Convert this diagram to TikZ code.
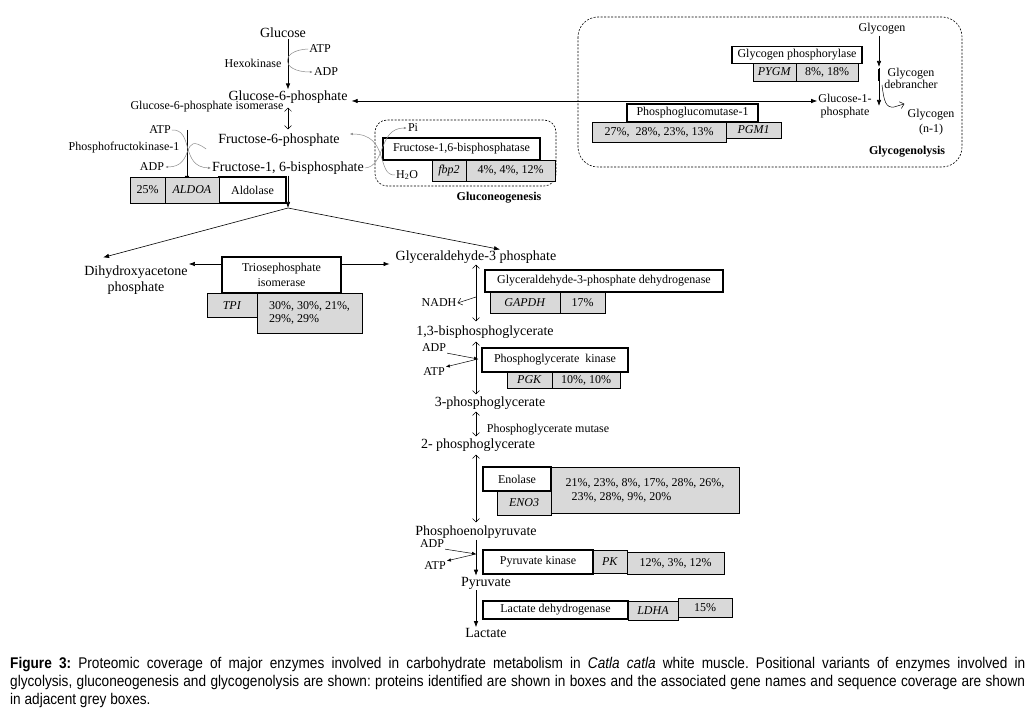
\documentclass[tikz,border=0pt]{standalone}
\usepackage{fontspec}
\setmainfont{Liberation Serif}
\newfontfamily\capfont[FakeStretch=0.88]{Liberation Sans}
\usetikzlibrary{arrows.meta}

\newcommand{\metsize}{\fontsize{14}{16}\selectfont}
\newcommand{\lblsize}{\fontsize{12}{13}\selectfont}

\tikzset{
  met/.style={font=\metsize, inner sep=1pt, align=center},
  lbl/.style={font=\lblsize, inner sep=1pt, align=center},
  enz/.style={draw, line width=1.6pt, fill=white, font=\lblsize, inner sep=0pt},
  gene/.style={draw, line width=0.5pt, fill=black!15, font=\lblsize, inner sep=0pt},
  fwd/.style={-{Latex[length=6pt,width=4.5pt]}, line width=0.6pt},
  small fwd/.style={-{Latex[length=4pt,width=3.5pt]}, line width=0.5pt},
  rev/.style={{Straight Barb[length=3.5pt,width=7pt]}-{Straight Barb[length=3.5pt,width=7pt]}, line width=0.5pt},
  open tip/.style={-{Straight Barb[length=4pt,width=7pt]}, line width=0.5pt},
  cof/.style={black!45, line width=0.5pt, -{Latex[length=3pt,width=2.5pt]}},
  region/.style={dash pattern=on 2pt off 1.5pt, line width=0.6pt},
}

\begin{document}
\begin{tikzpicture}[x=1pt,y=-1pt]
  \useasboundingbox[fill=white] (0,0) rectangle (1034,714);

  % Regions
  \draw [region, rounded corners=12pt] (375,120) rectangle (556,186);
  \draw [region, rounded corners=20pt] (578,17) rectangle (962,167);
  \node [lbl, font=\lblsize\bfseries] (gng) at (499,198) {Gluconeogenesis};
  \node [lbl, font=\lblsize\bfseries] (ggl) at (907,152) {Glycogenolysis};

  % Glucose to fructose-1,6-bisphosphate
  \node [met] (Glc) at (283,33) {Glucose};
  \node [met] (G6P) at (288,97) {Glucose-6-phosphate};
  \node [met] (F6P) at (279,140) {Fructose-6-phosphate};
  \node [met] (F16BP) at (288,168) {Fructose-1, 6-bisphosphate};
  \node [lbl] (hk) at (253,63) {Hexokinase};
  \node [lbl] (atp1) at (320,49) {ATP};
  \node [lbl] (adp1) at (326,72) {ADP};
  \node [lbl] (gpi) at (207,107) {Glucose-6-phosphate isomerase};
  \node [lbl] (atp2) at (160,130) {ATP};
  \node [lbl] (pfk) at (124,148) {Phosphofructokinase-1};
  \node [lbl] (adp2) at (152,167) {ADP};
  \draw [fwd] (G6P.north |- Glc.south) -- (G6P.north);
  \draw [cof] (atp1.west) .. controls (280,50) and (280,72) .. (adp1.west);
  \draw [rev, shorten <=3pt, shorten >=3pt] (G6P.south) -- (G6P.south |- F6P.north);
  \coordinate (pfk top) at (187,130);
  \coordinate (pfk bot) at (187,182);
  \draw [fwd, line width=0.8pt] (pfk top) -- (pfk bot);
  \draw [cof] (atp2.east) .. controls (194,129) and (180,167) .. (F16BP.west);
  \draw [cof] ([xshift=-11pt,yshift=-9pt]F6P.west) .. controls (180,130) and (196,167) .. (adp2.east);

  % Aldolase
  \node [enz, minimum width=67, minimum height=26] (ald) at (252.5,190) {Aldolase};
  \node [gene, minimum width=35, minimum height=26] (aldcov) at (147.5,190) {25\%};
  \node [gene, minimum width=54, minimum height=26] (aldg) at (192,190) {\textit{ALDOA}};

  % Gluconeogenesis
  \node [enz, minimum width=157, minimum height=22] (fbp) at (461.5,149) {Fructose-1,6-bisphosphatase};
  \node [gene, minimum width=34, minimum height=21] (fbpg) at (449,170.5) {\textit{fbp2}};
  \node [gene, minimum width=89, minimum height=21] (fbpcov) at (510.5,170.5) {4\%, 4\%, 12\%};
  \node [lbl] (pi) at (413,128) {Pi};
  \node [lbl] (h2o) at (407,175) {H\textsubscript{2}O};
  \draw [cof] (F16BP.east) .. controls (386,166) and (378,128) .. (pi.west);
  \draw [cof] (h2o.west) .. controls (376,176) and (390,134) .. ([xshift=9pt,yshift=6pt]F6P.east);

  % Glycogenolysis
  \node [lbl] (gly) at (882,29) {Glycogen};
  \node [lbl, font=\fontsize{12}{12}\selectfont] (gdb) at (911,78) {Glycogen\\debrancher};
  \node [lbl] (G1P) at (845,106) {Glucose-1-\\phosphate};
  \node [lbl, font=\fontsize{12}{15}\selectfont] (glyn) at (931,122) {Glycogen\\(n-1)};
  \node [enz, minimum width=130, minimum height=17] (gp) at (797,55) {Glycogen phosphorylase};
  \node [gene, minimum width=43, minimum height=18] (gpg) at (774.5,72) {\textit{PYGM}};
  \node [gene, minimum width=62, minimum height=18] (gpcov) at (827,72) {8\%, 18\%};
  \node [enz, minimum width=131, minimum height=18] (pgm) at (692.5,113) {Phosphoglucomutase-1};
  \node [gene, minimum width=134, minimum height=20] (pgmcov) at (659,132) {27\%,\ \ 28\%, 23\%, 13\%};
  \node [gene, minimum width=55, minimum height=16] (pgmg) at (753.5,130) {\textit{PGM1}};
  \coordinate (gp pt) at (879,67);
  \draw [fwd] (gly.south -| gp pt) -- (gp pt);
  \draw [fwd] ([yshift=-1pt]gp pt) -- (gp pt |- G1P.center);
  \draw [line width=1.2pt] ([yshift=-2pt]gp pt) -- ([yshift=-14pt]gp pt);
  \draw [open tip] ([xshift=3pt,yshift=-18pt]gp pt) .. controls (884,102) and (886,108) .. (894,107) -- ([xshift=-2pt,yshift=4pt]glyn.north west);
  \draw [fwd, {Latex[length=6pt,width=4.5pt]}-{Latex[length=6pt,width=4.5pt]}] ([xshift=3pt,yshift=-4pt]G6P.east) -- ([yshift=-4pt]G6P.east -| G1P.west);

  % Cleavage
  \coordinate (split) at (288,208);
  \node [met] (DHAP) at (136,280) {Dihydroxyacetone\\phosphate};
  \node [met] (GAP) at (476,257) {Glyceraldehyde-3 phosphate};
  \draw [fwd] (F16BP.south) -- (split);
  \draw [fwd] (split) -- ([xshift=20pt,yshift=7pt]DHAP.north west);
  \draw [fwd] (split) -- ([xshift=24pt]GAP.north);
  \node [enz, minimum width=119, minimum height=36, align=center, font=\fontsize{12}{15}\selectfont] (tim) at (281.5,275) {Triosephosphate\\isomerase};
  \node [gene, minimum width=50, minimum height=24, anchor=north] (timg) at (232,293) {\textit{TPI}};
  \node [gene, minimum width=105, minimum height=40, anchor=north, align=left, font=\fontsize{12}{13}\selectfont] (timcov) at (309.5,293) {30\%, 30\%, 21\%,\\29\%, 29\%};
  \draw [fwd] ([yshift=11pt]tim.west) -- ([yshift=11pt]tim.west -| DHAP.east);
  \draw [fwd, shorten >=5pt] ([yshift=11pt]tim.east) -- ([yshift=11pt]tim.east -| GAP.west);

  % Glycolysis, lower half
  \node [met] (BPG) at (485,332) {1,3-bisphosphoglycerate};
  \node [met] (PG3) at (490,403) {3-phosphoglycerate};
  \node [met] (PG2) at (478,445) {2- phosphoglycerate};
  \node [met] (PEP) at (476,532) {Phosphoenolpyruvate};
  \node [met] (Pyr) at (486,583) {Pyruvate};
  \node [met] (Lac) at (486,633) {Lactate};
  \node [lbl] (nadh) at (439,303) {NADH};
  \node [lbl] (adp3) at (434,348) {ADP};
  \node [lbl] (atp3) at (434,372) {ATP};
  \node [lbl] (pgam) at (548,430) {Phosphoglycerate mutase};
  \node [lbl] (adp4) at (432,544) {ADP};
  \node [lbl] (atp4) at (435,566) {ATP};

  \node [enz, minimum width=238, minimum height=22] (gapdh) at (604,281) {Glyceraldehyde-3-phosphate dehydrogenase};
  \node [gene, minimum width=70, minimum height=21] (gapdhg) at (525,302.5) {\textit{GAPDH}};
  \node [gene, minimum width=45, minimum height=21] (gapdhcov) at (582.5,302.5) {17\%};
  \node [enz, minimum width=146, minimum height=24] (pgk) at (555,360) {Phosphoglycerate\ \ kinase};
  \node [gene, minimum width=45, minimum height=16] (pgkg) at (529.5,380) {\textit{PGK}};
  \node [gene, minimum width=68, minimum height=16] (pgkcov) at (586,380) {10\%, 10\%};
  \node [enz, minimum width=68, minimum height=24] (eno) at (517,479) {Enolase};
  \node [gene, minimum width=54, minimum height=24] (enog) at (524,503) {\textit{ENO3}};
  \node [gene, minimum width=188, minimum height=46, align=left, font=\fontsize{12}{14}\selectfont] (enocov) at (645,490) {21\%, 23\%, 8\%, 17\%, 28\%, 26\%,\\\ \ 23\%, 28\%, 9\%, 20\%};
  \node [enz, minimum width=110, minimum height=24] (pk) at (538,562) {Pyruvate kinase};
  \node [gene, minimum width=34, minimum height=23] (pkg) at (610,561.5) {\textit{PK}};
  \node [gene, minimum width=97, minimum height=22] (pkcov) at (675.5,563) {12\%, 3\%, 12\%};
  \node [enz, minimum width=145, minimum height=18] (ldh) at (555.5,610) {Lactate dehydrogenase};
  \node [gene, minimum width=50, minimum height=19] (ldhg) at (653,610.5) {\textit{LDHA}};
  \node [gene, minimum width=54, minimum height=19] (ldhcov) at (705,607.5) {15\%};

  \draw [rev, shorten >=3pt] (GAP.south) -- (GAP.south |- BPG.north);
  \coordinate (nadh pt) at (476,297);
  \draw [open tip] (nadh pt) -- (nadh.east);
  \draw [rev, shorten <=2pt, shorten >=1pt] (BPG.south -| GAP.south) -- (GAP.south |- PG3.north);
  \coordinate (pgk pt) at (478,359);
  \draw [small fwd] (adp3.south east) -- (pgk pt);
  \draw [small fwd] (pgk pt) -- (atp3.north east);
  \draw [rev, shorten <=1pt, shorten >=1pt] (PG3.south -| GAP.south) -- (GAP.south |- PG2.north);
  \draw [rev, shorten <=2pt, shorten >=2pt] (PG2.south -| GAP.south) -- (GAP.south |- PEP.north);
  \coordinate (pk pt) at (476,554);
  \draw [small fwd] (adp4.south east) -- (pk pt);
  \draw [small fwd] (pk pt) -- (atp4.north east);
  \draw [fwd] (PEP.south) -- (PEP.south |- Pyr.north);
  \draw [fwd] (Pyr.south -| PEP.south) -- (PEP.south |- Lac.north);

  % Caption
  \node [anchor=north west, text width=1015pt, align=justify, inner sep=0pt,
         font=\capfont\fontsize{15.5}{17.8}\selectfont\frenchspacing] (caption) at (10,657)
    {\textbf{Figure 3:} Proteomic coverage of major enzymes involved in carbohydrate metabolism in \textit{Catla catla} white muscle. Positional variants of enzymes involved in\linebreak glycolysis, gluconeogenesis and glycogenolysis are shown: proteins identified are shown in boxes and the associated gene names and sequence coverage are shown\linebreak in adjacent grey boxes.};
\end{tikzpicture}
\end{document}
